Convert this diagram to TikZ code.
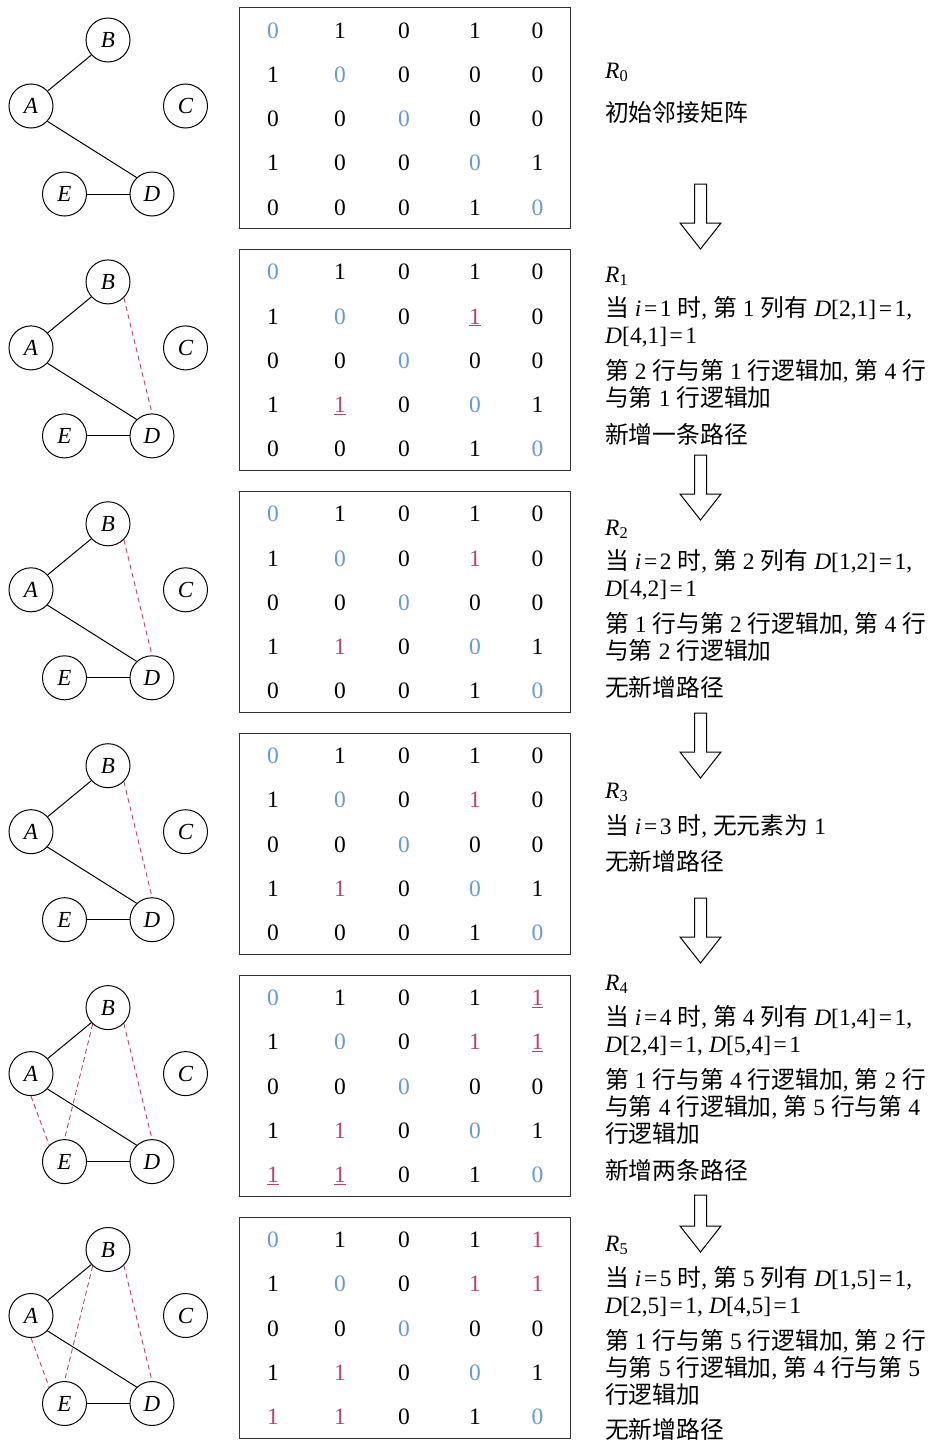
\documentclass[tikz,border=0pt]{standalone}
\usepackage{fontspec}
\setmainfont{Liberation Serif}
\newfontfamily\cjk[Scale=1.012]{Noto Sans CJK SC}
\definecolor{zblue}{RGB}{100,155,215}
\definecolor{zred}{RGB}{180,68,114}
\newcommand\cj[1]{{\cjk #1}}
\newcommand\g{\hspace{6pt}}
\newcommand\eq{\kern2.5pt=\kern2.5pt}
\newcommand\colx[1]{\ifcase#1\or273\or340\or404\or475\or537.5\fi}
\tikzset{
  vtx/.style={circle, draw, line width=1pt, minimum size=44pt, inner sep=0pt,
    font=\fontsize{23}{23}\selectfont\itshape},
  edge/.style={line width=1pt},
  newedge/.style={draw=zred, line width=0.9pt, dash pattern=on 5pt off 3.5pt},
  mbox/.style={draw=black!80, line width=1.3pt, inner sep=0pt},
  cell/.style={font=\fontsize{23.5}{23.5}\selectfont, inner sep=0pt, anchor=base},
  cn/.style={text=black}, cb/.style={text=zblue}, cr/.style={text=zred},
  txt/.style={font=\fontsize{23.5}{26}\selectfont, inner sep=0pt, anchor=base west},
  harrow/.style={draw, line width=1pt, fill=white, line join=miter},
}
\newcommand\mrow[3]{%
  \foreach[count=\c] \s/\v in {#3}{%
    \node[cell, c\s] (m#1-#2-\c) at ({\colx{\c}}, {7+241.9*#1+23+44.25*(#2-1)+8}) {\v};}}
\newcommand\tl[3]{\node[txt] (#1) at (605,#2) {#3};}
\newcommand\harrowat[2]{%
  \draw[harrow] (694.5,#1) -- (706.5,#1) -- (706.5,{#2-26}) -- (721,{#2-26})
    -- (700.5,#2) -- (680,{#2-26}) -- (694.5,{#2-26}) -- cycle;}
\begin{document}
\begin{tikzpicture}[x=1pt,y=-1pt]
\useasboundingbox (0,0) rectangle (931,1443);
% graphs and boxes
\foreach \k in {0,...,5}{
  \pgfmathsetmacro\dy{241.9*\k}
  \node[vtx] (B\k) at (108,{40+\dy}) {B};
  \node[vtx] (A\k) at (31,{106+\dy}) {A};
  \node[vtx] (C\k) at (185.5,{106+\dy}) {C};
  \node[vtx] (E\k) at (64.5,{194+\dy}) {E};
  \node[vtx] (D\k) at (152,{194+\dy}) {D};
  \draw[edge] (A\k.42) -- (B\k.-138);
  \draw[edge] (A\k.-43) -- (D\k.133);
  \draw[edge] (E\k.east) -- (D\k.west);
  \node[mbox, anchor=north west, minimum width=331pt, minimum height=221pt] (box\k) at (239,{7+\dy}) {};
}
\foreach \k in {1,...,5}{\draw[newedge] (B\k.-45) -- (D\k.north);}
\foreach \k in {4,5}{
  \draw[newedge] (B\k.-133) -- (E\k.north);
  \draw[newedge] (A\k.south) -- (E\k.133);
}
% matrices
\mrow{0}{1}{b/0,n/1,n/0,n/1,n/0}
\mrow{0}{2}{n/1,b/0,n/0,n/0,n/0}
\mrow{0}{3}{n/0,n/0,b/0,n/0,n/0}
\mrow{0}{4}{n/1,n/0,n/0,b/0,n/1}
\mrow{0}{5}{n/0,n/0,n/0,n/1,b/0}
\mrow{1}{1}{b/0,n/1,n/0,n/1,n/0}
\mrow{1}{2}{n/1,b/0,n/0,r/\underline{1},n/0}
\mrow{1}{3}{n/0,n/0,b/0,n/0,n/0}
\mrow{1}{4}{n/1,r/\underline{1},n/0,b/0,n/1}
\mrow{1}{5}{n/0,n/0,n/0,n/1,b/0}
\mrow{2}{1}{b/0,n/1,n/0,n/1,n/0}
\mrow{2}{2}{n/1,b/0,n/0,r/1,n/0}
\mrow{2}{3}{n/0,n/0,b/0,n/0,n/0}
\mrow{2}{4}{n/1,r/1,n/0,b/0,n/1}
\mrow{2}{5}{n/0,n/0,n/0,n/1,b/0}
\mrow{3}{1}{b/0,n/1,n/0,n/1,n/0}
\mrow{3}{2}{n/1,b/0,n/0,r/1,n/0}
\mrow{3}{3}{n/0,n/0,b/0,n/0,n/0}
\mrow{3}{4}{n/1,r/1,n/0,b/0,n/1}
\mrow{3}{5}{n/0,n/0,n/0,n/1,b/0}
\mrow{4}{1}{b/0,n/1,n/0,n/1,r/\underline{1}}
\mrow{4}{2}{n/1,b/0,n/0,r/1,r/\underline{1}}
\mrow{4}{3}{n/0,n/0,b/0,n/0,n/0}
\mrow{4}{4}{n/1,r/1,n/0,b/0,n/1}
\mrow{4}{5}{r/\underline{1},r/\underline{1},n/0,n/1,b/0}
\mrow{5}{1}{b/0,n/1,n/0,n/1,r/1}
\mrow{5}{2}{n/1,b/0,n/0,r/1,r/1}
\mrow{5}{3}{n/0,n/0,b/0,n/0,n/0}
\mrow{5}{4}{n/1,r/1,n/0,b/0,n/1}
\mrow{5}{5}{r/1,r/1,n/0,n/1,b/0}
% arrows
\harrowat{184}{249}
\harrowat{455}{520}
\harrowat{713}{778}
\harrowat{898}{963}
\harrowat{1195}{1252}
% texts
\tl{r0}{78}{\textit{R}\textsubscript{0}}
\tl{t0a}{121}{\cj{初始邻接矩阵}}
\tl{r1}{282}{\textit{R}\textsubscript{1}}
\tl{t1a}{316}{\cj{当}\g\textit{i}\eq1\g\cj{时},\g\cj{第}\g1\g\cj{列有}\g\textit{D}[2,1]\eq1,}
\tl{t1b}{343}{\textit{D}[4,1]\eq1}
\tl{t1c}{379}{\cj{第}\g2\g\cj{行与第}\g1\g\cj{行逻辑加},\g\cj{第}\g4\g\cj{行}}
\tl{t1d}{406}{\cj{与第}\g1\g\cj{行逻辑加}}
\tl{t1e}{443}{\cj{新增一条路径}}
\tl{r2}{535}{\textit{R}\textsubscript{2}}
\tl{t2a}{569}{\cj{当}\g\textit{i}\eq2\g\cj{时},\g\cj{第}\g2\g\cj{列有}\g\textit{D}[1,2]\eq1,}
\tl{t2b}{596}{\textit{D}[4,2]\eq1}
\tl{t2c}{632}{\cj{第}\g1\g\cj{行与第}\g2\g\cj{行逻辑加},\g\cj{第}\g4\g\cj{行}}
\tl{t2d}{659}{\cj{与第}\g2\g\cj{行逻辑加}}
\tl{t2e}{696}{\cj{无新增路径}}
\tl{r3}{798}{\textit{R}\textsubscript{3}}
\tl{t3a}{834}{\cj{当}\g\textit{i}\eq3\g\cj{时},\g\cj{无元素为}\g1}
\tl{t3b}{870}{\cj{无新增路径}}
\tl{r4}{990}{\textit{R}\textsubscript{4}}
\tl{t4a}{1025}{\cj{当}\g\textit{i}\eq4\g\cj{时},\g\cj{第}\g4\g\cj{列有}\g\textit{D}[1,4]\eq1,}
\tl{t4b}{1052}{\textit{D}[2,4]\eq1,\g\textit{D}[5,4]\eq1}
\tl{t4c}{1088}{\cj{第}\g1\g\cj{行与第}\g4\g\cj{行逻辑加},\g\cj{第}\g2\g\cj{行}}
\tl{t4d}{1115}{\cj{与第}\g4\g\cj{行逻辑加},\g\cj{第}\g5\g\cj{行与第}\g4}
\tl{t4e}{1142}{\cj{行逻辑加}}
\tl{t4f}{1179}{\cj{新增两条路径}}
\tl{r5}{1251}{\textit{R}\textsubscript{5}}
\tl{t5a}{1286}{\cj{当}\g\textit{i}\eq5\g\cj{时},\g\cj{第}\g5\g\cj{列有}\g\textit{D}[1,5]\eq1,}
\tl{t5b}{1313}{\textit{D}[2,5]\eq1,\g\textit{D}[4,5]\eq1}
\tl{t5c}{1349}{\cj{第}\g1\g\cj{行与第}\g5\g\cj{行逻辑加},\g\cj{第}\g2\g\cj{行}}
\tl{t5d}{1376}{\cj{与第}\g5\g\cj{行逻辑加},\g\cj{第}\g4\g\cj{行与第}\g5}
\tl{t5e}{1403}{\cj{行逻辑加}}
\tl{t5f}{1438}{\cj{无新增路径}}
\end{tikzpicture}
\end{document}
